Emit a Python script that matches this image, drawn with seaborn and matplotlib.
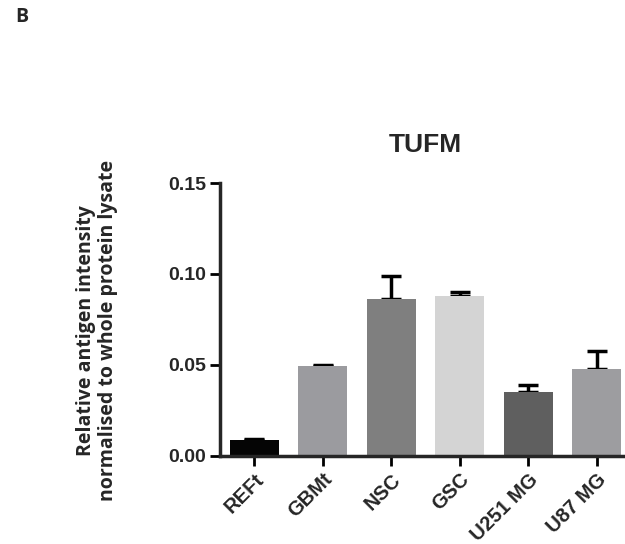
import numpy as np
import pandas as pd
import seaborn as sns
import matplotlib.pyplot as plt

# values
samples = ["REFt", "GBMt", "NSC", "GSC", "U251 MG", "U87 MG"]
means = [0.0088, 0.0495, 0.0863, 0.0879, 0.0352, 0.0478]
sem = [0.0003, 0.0005, 0.0126, 0.0022, 0.0038, 0.0099]
bar_colors = ["#050505", "#9b9b9f", "#7f7f7f", "#d4d4d4", "#5f5f5f", "#9c9ca0"]
y_ticks = [0.00, 0.05, 0.10, 0.15]

df = pd.DataFrame({"sample": samples, "value": means})

sns.set_style("ticks")
plt.rcParams["font.family"] = ["Liberation Sans", "DejaVu Sans"]

fig = plt.figure(figsize=(6.25, 5.44), dpi=100)
ax = fig.add_axes([0.352, 0.1618, 0.6576, 0.5018])

sns.barplot(data=df, x="sample", y="value", hue="sample", palette=bar_colors,
            legend=False, errorbar=None, width=0.72, linewidth=0, ax=ax)

# upper error bars only (GraphPad style)
ax.errorbar(np.arange(len(samples)), means, yerr=[np.zeros(len(sem)), sem],
            fmt="none", ecolor="black", elinewidth=2.5, capsize=7, capthick=2.5, zorder=1)
for p in ax.patches:
    p.set_zorder(2)

ax.set_xlim(-0.5, len(samples) - 0.5)
ax.set_ylim(0, 0.15)
ax.set_yticks(y_ticks)
ax.set_yticklabels([f"{t:.2f}" for t in y_ticks], fontsize=14, fontweight="bold")
ax.set_xticks(range(len(samples)))
ax.set_xticklabels(samples, rotation=45, ha="right", rotation_mode="anchor",
                   fontsize=14.5, fontweight="bold")
ax.tick_params(axis="both", length=7, width=2, color="black", pad=3)
ax.set_xlabel("")
ax.set_ylabel("Relative antigen intensity\nnormalised to whole protein lysate",
              fontsize=14, fontweight="bold", family="Open Sans", labelpad=36,
              linespacing=1.15)
ax.yaxis.label.set_y(0.46)
ax.set_title("TUFM", fontsize=19, fontweight="bold", pad=22)

for side in ["left", "bottom"]:
    ax.spines[side].set_linewidth(2.5)
sns.despine(ax=ax)

fig.text(0.024, 0.968, "B", fontsize=14, fontweight="bold", family="Open Sans",
         va="center")

fig.savefig("out.png", dpi=100)
